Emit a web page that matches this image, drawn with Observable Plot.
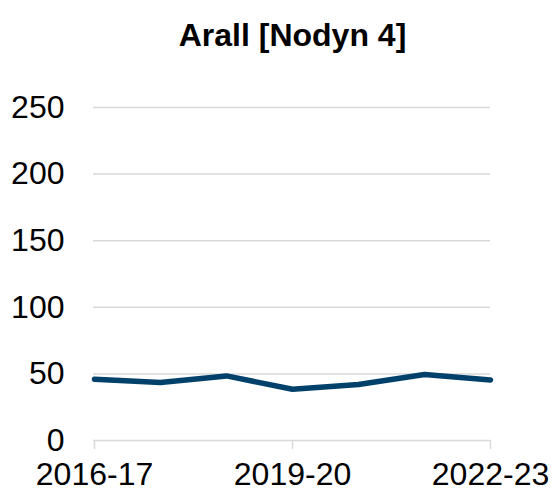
<!DOCTYPE html>
<html>
<head>
<meta charset="utf-8">
<script src="https://cdn.jsdelivr.net/npm/d3@7"></script>
<script src="https://cdn.jsdelivr.net/npm/@observablehq/plot@0.6"></script>
<style>
  html, body { margin: 0; padding: 0; background: #fff; }
  #wrap { width: 554px; height: 492px; overflow: hidden; font-family: "Liberation Sans", Arial, sans-serif; }
  #title { height: 70px; line-height: 70px; font-size: 32px; font-weight: bold; color: #000;
           text-align: center; padding-left: 31px; box-sizing: border-box; width: 554px; }
</style>
</head>
<body>
<div id="wrap">
  <div id="title">Arall [Nodyn 4]</div>
  <div id="chart"></div>
</div>
<script>
const years = ["2016-17", "2017-18", "2018-19", "2019-20", "2020-21", "2021-22", "2022-23"];
const values = [46, 43.5, 48.5, 38.5, 42, 49.5, 45.5];
const xTicks = ["2016-17", "2019-20", "2022-23"];
const yTicks = [0, 50, 100, 150, 200, 250];

const data = years.map((y, i) => ({year: y, value: values[i]}));

const chart = Plot.plot({
  width: 554,
  height: 422,
  marginTop: 37,
  marginBottom: 52,
  marginLeft: 93,
  marginRight: 64,
  style: {fontFamily: "'Liberation Sans', Arial, sans-serif", fontSize: "32px", color: "#000", background: "#fff"},
  x: {type: "point", domain: years, padding: 0, label: null},
  y: {domain: [0, 250], label: null},
  marks: [
    Plot.ruleY(yTicks, {stroke: "#d9d9d9", strokeWidth: 1.5}),
    Plot.axisY({ticks: yTicks, tickSize: 0, tickPadding: 29, label: null, fontSize: 32}),
    Plot.axisX({ticks: xTicks, tickSize: 9, tickPadding: 13, label: null, fontSize: 32, stroke: "#d9d9d9", strokeWidth: 1.5}),
    Plot.line(data, {x: "year", y: "value", stroke: "#00416b", strokeWidth: 5.5, strokeLinejoin: "round", strokeLinecap: "round"})
  ]
});
document.getElementById("chart").appendChild(chart);
</script>
</body>
</html>
